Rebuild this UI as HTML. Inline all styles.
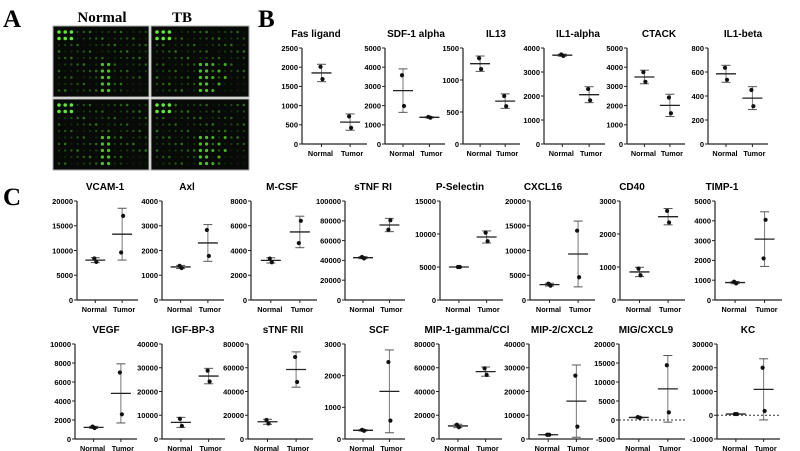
<!DOCTYPE html>
<html><head><meta charset="utf-8">
<style>
html,body{margin:0;padding:0;background:#fff;width:800px;height:451px;overflow:hidden}
svg{display:block}
.sans{font-family:"Liberation Sans",Arial,sans-serif}
.serif{font-family:"Liberation Serif","Times New Roman",serif}
</style></head>
<body>
<svg id="fig" width="800" height="451" viewBox="0 0 800 451" xmlns="http://www.w3.org/2000/svg">
<text class="serif" x="3" y="27" font-weight="bold" font-size="25">A</text>
<text class="serif" x="258" y="27" font-weight="bold" font-size="25">B</text>
<text class="serif" x="3" y="205" font-weight="bold" font-size="25">C</text>
<text class="serif" x="102" y="22" text-anchor="middle" font-weight="bold" font-size="15">Normal</text>
<text class="serif" x="182" y="22" text-anchor="middle" font-weight="bold" font-size="15">TB</text>
<g id="blots"></g>
<g id="charts" class="sans"></g>
</svg>
<script>
const titles = ["Fas ligand","SDF-1 alpha","IL13","IL1-alpha","CTACK","IL1-beta",
"VCAM-1","Axl","M-CSF","sTNF RI","P-Selectin","CXCL16","CD40","TIMP-1",
"VEGF","IGF-BP-3","sTNF RII","SCF","MIP-1-gamma/CCl","MIP-2/CXCL2","MIG/CXCL9","KC"];
const normalVals = [[2010,1690],[3580,1980],[1340,1170],[3730,3670],[3740,3240],[635,535],
[8400,7700],[1380,1290],[3350,3050],[43500,42000],[5000,5000],[3300,2900],[950,750],[920,840],
[1300,1150],[8500,5500],[16000,13000],[290,260],[12000,10000],[1800,1800],[750,600],[500,500]];
const tumorVals = [[720,420],[1410,1370],[750,590],[2290,1820],[2420,1600],[450,315],
[9600,17000],[2830,1780],[4600,6400],[71000,80500],[10200,8900],[14000,4600],[2700,2350],[2100,4050],
[7000,2600],[28800,24200],[69000,48000],[2430,580],[59500,54000],[26700,5200],[14400,2000],[20000,1800]];
const tickLabels = [[0,500,1000,1500,2000,2500],[0,1000,2000,3000,4000,5000],[0,500,1000,1500],[0,1000,2000,3000,4000],[0,1000,2000,3000,4000,5000],[0,200,400,600,800],
[0,5000,10000,15000,20000],[0,1000,2000,3000,4000],[0,2000,4000,6000,8000],[0,20000,40000,60000,80000,100000],[0,5000,10000,15000],[0,5000,10000,15000,20000],[0,1000,2000,3000],[0,1000,2000,3000,4000,5000],
[0,2000,4000,6000,8000,10000],[0,10000,20000,30000,40000],[0,20000,40000,60000,80000],[0,1000,2000,3000],[0,20000,40000,60000,80000],[0,10000,20000,30000,40000],[-5000,0,5000,10000,15000,20000],[-10000,0,10000,20000,30000]];
const groupNames = ["Normal","Tumor"];

// layout (pixel geometry, not data): [axisX, endX, titleX]
const layout = [[302,367,316],[385,445,416],[463,520,496],[544,605,578],[627,685,659],[708,768,743],
[77,138,105],[162,224,187],[251,317,282],[345,405,373],[440,503,460],[530,595,543],[620,685,632],[715,782,722],
[75,137,106],[162,225,193],[248,313,283],[345,405,379],[439,502,467],[529,593,562],[619,685,646],[717,780,748]];
const rowY = [[48,144],[201,300],[344,439]];

const NS="http://www.w3.org/2000/svg";
function mk(tag,attrs,parent){const e=document.createElementNS(NS,tag);for(const k in attrs)e.setAttribute(k,attrs[k]);parent.appendChild(e);return e;}

// blots
const blots=document.getElementById('blots');
const blotRects=[[53,26,96,71],[151,26,98,71],[53,99,96,71],[151,99,98,71]];
blotRects.forEach((r,bi)=>{
  const g=mk('g',{},blots);
  
  
  mk('rect',{x:r[0],y:r[1],width:r[2],height:r[3],fill:'#070a07',stroke:'#aaa','stroke-width':1},g);
  for(let row=0;row<10;row++)for(let col=0;col<15;col++){
    let b=((row*7+col*13+bi*5)%11)/11*0.45;
    if(row<2&&col<3)b=1;
    if((col===7||col===8)&&row>4)b=Math.max(b,0.8);
    if(bi%2===1&&row>4&&col>6&&col<12&&(row+col)%2===0)b=Math.max(b,0.7);
    if(row>7&&col>10)b=0.05;
    const gr=Math.round(25+210*b);
    mk('circle',{cx:r[0]+6+col*6.2,cy:r[1]+6+row*6.5,r:1.0+b*0.8,fill:`rgb(${Math.round(gr*0.4)},${gr},${Math.round(gr*0.2)})`},g);
  }
});

const charts=document.getElementById('charts');
function slug(s){return s.toLowerCase().replace(/[^a-z0-9]+/g,'-').replace(/-$/,'');}
function mean(a){return a.reduce((s,v)=>s+v,0)/a.length;}
function sd(a){const m=mean(a);return Math.sqrt(a.reduce((s,v)=>s+(v-m)*(v-m),0)/(a.length-1));}

titles.forEach((t,i)=>{
  const row=i<6?0:(i<14?1:2);
  const [top,bot]=rowY[row];
  const [ax,ex,tx]=layout[i];
  const ticks=tickLabels[i];
  const tmin=ticks[0],tmax=ticks[ticks.length-1];
  const y=v=>bot-(v-tmin)/(tmax-tmin)*(bot-top);
  const xg=k=>ax+(k===0?0.3:0.74)*(ex-ax);
  const g=mk('g',{},charts);
  
  
  const tt=mk('text',{x:tx,y:top-11,'text-anchor':'middle','font-size':10,'font-weight':'bold'},g);
  tt.textContent=t;
  
  
  const ya=mk('line',{x1:ax,y1:top,x2:ax,y2:bot,stroke:'#222','stroke-width':1.2},g);
  
  
  const xa=mk('line',{x1:ax,y1:bot,x2:ex,y2:bot,stroke:'#222','stroke-width':1.2},g);
  
  
  ticks.forEach(v=>{
    mk('line',{x1:ax-3,y1:y(v),x2:ax,y2:y(v),stroke:'#222','stroke-width':1},g);
    const l=mk('text',{x:ax-4,y:y(v)+2.8,'text-anchor':'end','font-size':7.5,'font-weight':'bold'},g);
    l.textContent=v;
    
    
  });
  if(tmin<0){
    const z=mk('line',{x1:ax,y1:y(0),x2:ex,y2:y(0),stroke:'#333','stroke-width':1,'stroke-dasharray':'2,2'},g);
    
    
  }
  [normalVals[i],tumorVals[i]].forEach((vals,k)=>{
    const cx=xg(k);
    mk('line',{x1:cx,y1:bot,x2:cx,y2:bot+3,stroke:'#222','stroke-width':1},g);
    const lab=mk('text',{x:cx+(k===0?-1:2),y:bot+12,'text-anchor':'middle','font-size':7.3,'font-weight':'bold'},g);
    lab.textContent=groupNames[k];
    
    
    const m=mean(vals),s=sd(vals);
    const eg=mk('g',{},g);
    
    
    mk('line',{x1:cx,y1:y(m-s),x2:cx,y2:y(m+s),stroke:'#777','stroke-width':1},eg);
    mk('line',{x1:cx-4.5,y1:y(m-s),x2:cx+4.5,y2:y(m-s),stroke:'#555','stroke-width':1},eg);
    mk('line',{x1:cx-4.5,y1:y(m+s),x2:cx+4.5,y2:y(m+s),stroke:'#555','stroke-width':1},eg);
    const ml=mk('line',{x1:cx-10,y1:y(m),x2:cx+10,y2:y(m),stroke:'#222','stroke-width':1.3},g);
    
    
    vals.forEach((v,j)=>{
      const c=mk('circle',{cx:cx+(j===0?-1:1),cy:y(v),r:2.1,fill:'#111'},g);
      
      
    });
  });
});
</script>
</body></html>
